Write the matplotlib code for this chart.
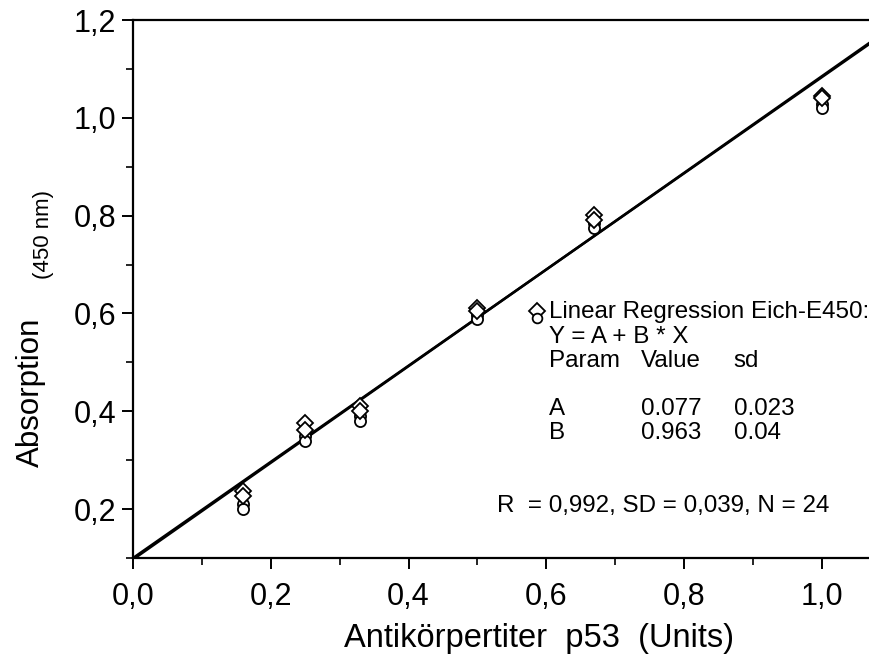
import numpy as np
import matplotlib.pyplot as plt
from matplotlib.ticker import FuncFormatter, MultipleLocator

plt.rcParams['font.family'] = ['Liberation Sans', 'DejaVu Sans']

# titre values (Units)
titer = [0.16, 0.25, 0.33, 0.5, 0.67, 1.0]

# absorption readings, two replicate series per plate (diamonds / circles)
diamond_1 = [0.237, 0.377, 0.411, 0.612, 0.802, 1.045]
diamond_2 = [0.226, 0.362, 0.400, 0.605, 0.792, 1.040]
circle_1 = [0.210, 0.350, 0.390, 0.597, 0.784, 1.028]
circle_2 = [0.200, 0.340, 0.380, 0.588, 0.774, 1.020]

# fitted lines as drawn
line_intercepts = [0.100, 0.097]
line_slopes = [0.983, 0.988]

fig = plt.figure(figsize=(8.7, 6.54), dpi=100)
ax = fig.add_axes([0.1529, 0.1468, 0.8471, 0.8226])

xs = np.array([0.0, 1.1])
for a, b in zip(line_intercepts, line_slopes):
    ax.plot(xs, a + b * xs, color='black', lw=1.8, zorder=2)

for ys in (circle_1, circle_2):
    ax.plot(titer, ys, ls='none', marker='o', ms=8, mfc='white',
            mec='black', mew=1.3, zorder=3)
for ys in (diamond_1, diamond_2):
    ax.plot(titer, ys, ls='none', marker='D', ms=8.5, mfc='white',
            mec='black', mew=1.3, zorder=4)

ax.set_xlim(0, 1.07)
ax.set_ylim(0.1, 1.2)

ax.spines['right'].set_visible(False)
for s in ('left', 'bottom', 'top'):
    ax.spines[s].set_linewidth(1.6)

comma = FuncFormatter(lambda v, p: ('%.1f' % v).replace('.', ','))
ax.xaxis.set_major_locator(MultipleLocator(0.2))
ax.xaxis.set_minor_locator(MultipleLocator(0.1))
ax.yaxis.set_major_locator(MultipleLocator(0.2))
ax.yaxis.set_minor_locator(MultipleLocator(0.1))
ax.xaxis.set_major_formatter(comma)
ax.yaxis.set_major_formatter(comma)
ax.set_yticks([0.2, 0.4, 0.6, 0.8, 1.0, 1.2])
ax.tick_params(which='major', direction='out', length=8, width=1.4,
               labelsize=22, pad=4)
ax.tick_params(axis='x', which='major', pad=9)
ax.tick_params(which='minor', direction='out', length=5, width=1.2)

fig.text(0.6195, 0.024, 'Antikörpertiter  p53  (Units)', fontsize=23.5,
         ha='center', va='center')
fig.text(0.035, 0.40, 'Absorption', fontsize=22.5, rotation=90,
         ha='center', va='center')
fig.text(0.050, 0.642, '(450 nm)', fontsize=16, rotation=90,
         ha='center', va='center')

# legend-like annotation block
ax.plot([0.587], [0.606], marker='D', ms=8, mfc='white', mec='black',
        mew=1.3, ls='none', clip_on=False)
ax.plot([0.587], [0.591], marker='o', ms=7, mfc='white', mec='black',
        mew=1.3, ls='none', clip_on=False)

tx = 0.604
fs = 17.4
ax.text(tx, 0.602, 'Linear Regression Eich-E450:', fontsize=fs, va='center')
ax.text(tx, 0.551, 'Y = A + B * X', fontsize=fs, va='center')
ax.text(tx, 0.502, 'Param', fontsize=fs, va='center')
ax.text(0.737, 0.502, 'Value', fontsize=fs, va='center')
ax.text(0.872, 0.502, 'sd', fontsize=fs, va='center')
ax.text(tx, 0.404, 'A', fontsize=fs, va='center')
ax.text(0.737, 0.404, '0.077', fontsize=fs, va='center')
ax.text(0.872, 0.404, '0.023', fontsize=fs, va='center')
ax.text(tx, 0.355, 'B', fontsize=fs, va='center')
ax.text(0.737, 0.355, '0.963', fontsize=fs, va='center')
ax.text(0.872, 0.355, '0.04', fontsize=fs, va='center')
ax.text(0.528, 0.206, 'R  = 0,992, SD = 0,039, N = 24', fontsize=fs,
        va='center')

fig.savefig('out.png', dpi=100)
